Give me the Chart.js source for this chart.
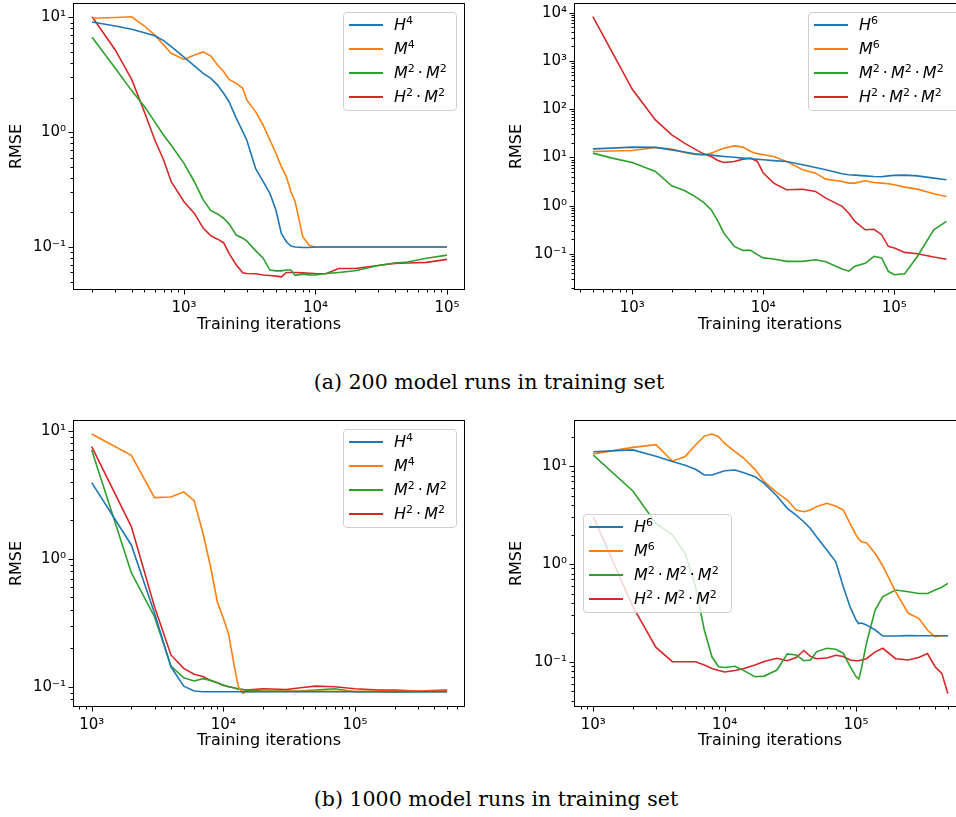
<!DOCTYPE html>
<html>
<head>
<meta charset="utf-8">
<script src="https://cdn.jsdelivr.net/npm/chart.js@4.4.1/dist/chart.umd.min.js"></script>
<style>
  body { margin: 0; width: 956px; height: 817px; overflow: hidden; background: #fff; position: relative; }
  .panel { position: absolute; }
  .legend { position: absolute; background: rgba(255,255,255,0.8); border: 1px solid #d0d0d0; border-radius: 4px;
            box-sizing: border-box; padding: 0 0 1px 0; font-family: 'DejaVu Sans'; font-size: 16px; color: #000; }
  .legend .row { height: 24px; line-height: 24px; display: flex; align-items: center; white-space: nowrap; }
  .legend .swatch { display: block; width: 34px; height: 2px; margin: 0 11px 0 5px; flex: none; }
  .legend sup { font-size: 11px; vertical-align: 0; position: relative; top: -6px; line-height: 0; }
  .legend .dot { margin: 0 3px; }
  .caption { position: absolute; font-family: 'DejaVu Serif'; font-size: 20.5px; color: #000; white-space: nowrap;
             transform: translateX(-50%); }
</style>
</head>
<body>
<div class="panel" style="left:0;top:0"><canvas id="a" width="480" height="340"></canvas></div>
<div class="panel" style="left:480px;top:0"><canvas id="b" width="500" height="340"></canvas></div>
<div class="panel" style="left:0;top:410px"><canvas id="c" width="480" height="340"></canvas></div>
<div class="panel" style="left:480px;top:410px"><canvas id="d" width="500" height="340"></canvas></div>
<div class="caption" style="left:489px;top:370px">(a) 200 model runs in training set</div>
<div class="caption" style="left:496px;top:787px">(b) 1000 model runs in training set</div>
<script>
// (a) left: 200 runs, 4th order
const aIters = [200, 300, 400, 500, 600, 700, 800, 1000, 1200, 1400, 1600, 1800, 2000, 2200, 2500, 2800, 3000, 3500, 4000, 4500, 5000, 5500, 6000, 6500, 7000, 8000, 9000, 10000, 12000, 15000, 20000, 30000, 40000, 50000, 70000, 100000];
const aH4 = [9.1, 8.4, 7.86, 7.35, 6.9, 6.27, 5.56, 4.5, 3.77, 3.25, 2.94, 2.57, 2.18, 1.84, 1.32, 1.01, 0.855, 0.484, 0.371, 0.293, 0.21, 0.131, 0.111, 0.102, 0.1, 0.099, 0.099, 0.1, 0.1, 0.1, 0.1, 0.1, 0.1, 0.1, 0.1, 0.1];
const aM4 = [9.8, 9.95, 10.1, 8.4, 7.0, 5.74, 4.86, 4.3, 4.7, 5.0, 4.6, 3.85, 3.37, 2.88, 2.66, 2.41, 1.91, 1.51, 1.15, 0.855, 0.655, 0.5, 0.41, 0.303, 0.248, 0.123, 0.103, 0.1, 0.1, 0.1, 0.1, 0.1, 0.1, 0.1, 0.1, 0.1];
const aM2M2 = [6.7, 3.6, 2.3, 1.67, 1.23, 0.94, 0.77, 0.535, 0.37, 0.257, 0.207, 0.194, 0.178, 0.159, 0.127, 0.119, 0.113, 0.093, 0.08, 0.063, 0.062, 0.062, 0.063, 0.063, 0.0566, 0.058, 0.057, 0.057, 0.0587, 0.06, 0.0621, 0.069, 0.0725, 0.074, 0.0797, 0.085];
const aH2M2 = [10.1, 5.2, 2.88, 1.5, 0.855, 0.573, 0.37, 0.248, 0.196, 0.146, 0.125, 0.117, 0.109, 0.088, 0.0697, 0.0597, 0.0587, 0.0585, 0.057, 0.0565, 0.0558, 0.055, 0.06, 0.06, 0.06, 0.0595, 0.059, 0.0587, 0.0585, 0.065, 0.065, 0.069, 0.072, 0.0725, 0.0735, 0.078];

// (a) right: 200 runs, 6th order
const bIters = [500, 700, 1000, 1500, 2000, 2500, 3000, 3500, 4000, 4500, 5000, 6000, 7000, 8000, 9000, 10000, 12000, 15000, 20000, 25000, 30000, 40000, 45000, 50000, 60000, 70000, 80000, 90000, 100000, 120000, 150000, 200000, 250000];
const bH6 = [15.1, 15.6, 16.4, 16.2, 14.4, 13.0, 11.9, 11.5, 11.2, 10.8, 10.5, 10.1, 9.7, 9.4, 9.2, 8.95, 8.6, 8.27, 7.05, 6.2, 5.55, 4.59, 4.4, 4.3, 4.15, 4.04, 4.0, 4.15, 4.25, 4.3, 4.15, 3.73, 3.45];
const bM6 = [13.3, 13.6, 14.0, 16.1, 14.9, 12.7, 11.5, 11.3, 12.3, 14.0, 15.6, 17.4, 16.4, 13.3, 12.0, 11.4, 10.5, 8.3, 5.55, 4.74, 3.56, 3.19, 2.94, 2.94, 3.29, 3.04, 2.94, 2.85, 2.72, 2.43, 2.21, 1.77, 1.56];
const bM2M2M2 = [12.3, 9.7, 7.9, 5.13, 2.59, 2.07, 1.56, 1.17, 0.83, 0.48, 0.27, 0.144, 0.119, 0.119, 0.097, 0.083, 0.079, 0.0705, 0.0705, 0.076, 0.069, 0.049, 0.044, 0.056, 0.064, 0.0895, 0.083, 0.0438, 0.0373, 0.039, 0.089, 0.318, 0.474];
const bH2M2M2 = [8270, 1535, 259, 60, 29.4, 19.8, 14.9, 11.9, 10.5, 8.67, 7.88, 8.27, 9.24, 9.7, 8.27, 4.74, 2.94, 2.14, 2.2, 1.98, 1.44, 0.97, 0.7, 0.474, 0.318, 0.326, 0.251, 0.144, 0.133, 0.108, 0.1016, 0.0867, 0.078];

// (b) left: 1000 runs, 4th order
const cIters = [1000, 2000, 3000, 4000, 5000, 6000, 7000, 8000, 9000, 10000, 11000, 12000, 13000, 14000, 15000, 20000, 30000, 40000, 50000, 70000, 100000, 150000, 200000, 300000, 500000];
const cH4 = [3.93, 1.28, 0.374, 0.143, 0.101, 0.0924, 0.0914, 0.0914, 0.0914, 0.0914, 0.0914, 0.0914, 0.0914, 0.0914, 0.0914, 0.0914, 0.0914, 0.0914, 0.0914, 0.0914, 0.0914, 0.0914, 0.0914, 0.0914, 0.0914];
const cM4 = [9.42, 6.41, 3.0, 3.03, 3.33, 2.84, 1.58, 0.865, 0.461, 0.342, 0.254, 0.152, 0.1, 0.0887, 0.0914, 0.092, 0.092, 0.092, 0.092, 0.092, 0.092, 0.092, 0.092, 0.092, 0.092];
const cM2M2 = [7.06, 0.778, 0.352, 0.145, 0.1175, 0.1107, 0.1155, 0.112, 0.1074, 0.103, 0.1, 0.098, 0.096, 0.095, 0.094, 0.0925, 0.0925, 0.093, 0.094, 0.0963, 0.0914, 0.0914, 0.0905, 0.0914, 0.0914];
const cH2M2 = [7.5, 1.78, 0.422, 0.177, 0.139, 0.125, 0.12, 0.112, 0.1074, 0.102, 0.1, 0.098, 0.096, 0.095, 0.094, 0.0963, 0.095, 0.0985, 0.101, 0.1, 0.0963, 0.094, 0.094, 0.0925, 0.094];

// (b) right: 1000 runs, 6th order
const dIters = [1000, 2000, 3000, 4000, 5000, 6000, 7000, 8000, 9000, 10000, 12000, 14000, 17000, 20000, 25000, 30000, 35000, 40000, 45000, 50000, 60000, 70000, 80000, 90000, 100000, 105000, 110000, 120000, 140000, 160000, 200000, 250000, 300000, 350000, 400000, 450000, 500000];
const dH6 = [14.0, 14.6, 12.6, 11.1, 10.2, 9.25, 8.09, 8.09, 8.55, 8.96, 9.1, 8.55, 7.78, 6.65, 4.94, 3.7, 3.16, 2.7, 2.3, 1.9, 1.39, 1.06, 0.587, 0.367, 0.268, 0.247, 0.25, 0.239, 0.212, 0.184, 0.184, 0.186, 0.185, 0.185, 0.185, 0.185, 0.185];
const dM6 = [13.3, 15.5, 16.5, 11.2, 12.5, 16.4, 20.2, 21.2, 19.9, 17.0, 14.0, 12.0, 9.25, 6.92, 5.35, 4.5, 3.56, 3.42, 3.56, 3.85, 4.16, 3.91, 3.56, 2.6, 1.98, 1.8, 1.69, 1.65, 1.28, 0.955, 0.522, 0.314, 0.279, 0.212, 0.181, 0.185, 0.185];
const dM2M2M2 = [12.9, 5.56, 2.6, 1.98, 1.28, 0.587, 0.212, 0.113, 0.0895, 0.088, 0.0905, 0.0817, 0.0708, 0.0718, 0.0828, 0.121, 0.118, 0.103, 0.105, 0.127, 0.138, 0.135, 0.123, 0.09, 0.071, 0.067, 0.086, 0.155, 0.34, 0.465, 0.543, 0.522, 0.5, 0.5, 0.543, 0.58, 0.635];
const dH2M2M2 = [3.04, 0.367, 0.141, 0.1007, 0.1007, 0.1007, 0.093, 0.086, 0.082, 0.079, 0.082, 0.086, 0.093, 0.101, 0.109, 0.103, 0.111, 0.131, 0.114, 0.108, 0.11, 0.117, 0.114, 0.105, 0.103, 0.103, 0.105, 0.108, 0.127, 0.138, 0.108, 0.105, 0.111, 0.122, 0.0895, 0.0766, 0.0478];

const names4 = ['H⁴', 'M⁴', 'M²·M²', 'H²·M²'];
const names6 = ['H⁶', 'M⁶', 'M²·M²·M²', 'H²·M²·M²'];

// labelled (major) ticks
const xMajorA = [1e3, 1e4, 1e5];
const yMajorA = [0.1, 1, 10];
const xMajorB = [1e3, 1e4, 1e5];
const yMajorB = [0.1, 1, 10, 100, 1000, 10000];
const xMajorC = [1e3, 1e4, 1e5];
const yMajorC = [0.1, 1, 10];
const xMajorD = [1e3, 1e4, 1e5];
const yMajorD = [0.1, 1, 10];

const colors = ['#1f77b4', '#ff7f0e', '#2ca02c', '#d62728'];
const SUP = {'-': '⁻', '0': '⁰', '1': '¹', '2': '²', '3': '³', '4': '⁴', '5': '⁵', '6': '⁶'};

function logTicks(min, max) {
  const out = [];
  for (let e = Math.floor(Math.log10(min)); e <= Math.ceil(Math.log10(max)); e++) {
    for (let m = 1; m <= 9; m++) {
      const v = m * Math.pow(10, e);
      if (v >= min && v <= max) out.push({ value: v, major: m === 1 });
    }
  }
  return out;
}

function powLabel(v, majors) {
  if (!majors.some(m => Math.abs(m - v) / m < 1e-6)) return '';
  const e = Math.round(Math.log10(v));
  return '10' + String(e).split('').map(ch => SUP[ch]).join('');
}

// matplotlib style box + tick marks
const frame = {
  id: 'frame',
  afterDraw(chart) {
    const { ctx, chartArea: a, scales } = chart;
    ctx.save();
    ctx.strokeStyle = '#000';
    ctx.lineWidth = 1;
    const L = Math.round(a.left) - 0.5, T = Math.round(a.top) - 0.5;
    const R = Math.round(a.right) + 0.5, B = Math.round(a.bottom) + 0.5;
    ctx.strokeRect(L, T, R - L, B - T);
    ctx.beginPath();
    scales.x.ticks.forEach(t => {
      const p = Math.round(scales.x.getPixelForValue(t.value)) + 0.5;
      ctx.moveTo(p, B);
      ctx.lineTo(p, B + (t.major ? 5 : 3));
    });
    scales.y.ticks.forEach(t => {
      const p = Math.round(scales.y.getPixelForValue(t.value)) + 0.5;
      ctx.moveTo(L, p);
      ctx.lineTo(L - (t.major ? 5 : 3), p);
    });
    ctx.stroke();
    ctx.restore();
  }
};

function makeChart(id, p) {
  const canvas = document.getElementById(id);
  const W = canvas.width, H = canvas.height;
  const tickFont = { family: 'DejaVu Sans', size: 15 };
  const titleFont = { family: 'DejaVu Sans', size: 16 };
  return new Chart(canvas, {
    type: 'line',
    data: {
      labels: p.iters,
      datasets: p.series.map((s, i) => ({
        label: p.names[i],
        data: s,
        borderColor: colors[i],
        backgroundColor: colors[i],
        borderWidth: 1.6,
        pointRadius: 0,
        tension: 0,
        fill: false
      }))
    },
    options: {
      responsive: false,
      animation: false,
      events: [],
      layout: { padding: { left: 0, top: p.area[1], right: W - p.area[2], bottom: H - p.area[3] - p.xh } },
      plugins: { legend: { display: false }, tooltip: { enabled: false } },
      scales: {
        x: {
          type: 'logarithmic',
          min: p.xmin, max: p.xmax,
          afterBuildTicks: s => { s.ticks = logTicks(s.min, s.max); },
          afterFit: s => { s.height = p.xh; s.paddingLeft = 0; s.paddingRight = 0; },
          grid: { display: false, drawTicks: false },
          border: { display: false },
          ticks: { autoSkip: false, maxRotation: 0, padding: 10, color: '#000', font: tickFont,
                   callback: v => powLabel(v, p.xMajor) },
          title: { display: true, text: 'Training iterations', color: '#000', font: titleFont, padding: 0 }
        },
        y: {
          type: 'logarithmic',
          min: p.ymin, max: p.ymax,
          afterBuildTicks: s => { s.ticks = logTicks(s.min, s.max); },
          afterFit: s => { s.width = p.area[0]; s.paddingTop = 0; s.paddingBottom = 0; },
          grid: { display: false, drawTicks: false },
          border: { display: false },
          ticks: { autoSkip: false, padding: 8, color: '#000', font: tickFont,
                   callback: v => powLabel(v, p.yMajor) },
          title: { display: true, text: 'RMSE', color: '#000', font: titleFont, padding: { top: p.ytp, bottom: 0 } }
        }
      }
    },
    plugins: [frame]
  });
}

function makeLegend(names, left, top, width) {
  const box = document.createElement('div');
  box.className = 'legend';
  box.style.left = left + 'px';
  box.style.top = top + 'px';
  box.style.width = width + 'px';
  const supDigit = { '²': '2', '⁴': '4', '⁶': '6' };
  names.forEach((n, i) => {
    const html = n.split('·').map(part =>
      part.replace(/([HM])/g, '<i>$1</i>').replace(/[²⁴⁶]/g, ch => '<sup>' + supDigit[ch] + '</sup>')
    ).join('<span class="dot">·</span>');
    const row = document.createElement('div');
    row.className = 'row';
    row.innerHTML = '<span class="swatch" style="background-color:' + colors[i] + '"></span><span>' + html + '</span>';
    box.appendChild(row);
  });
  document.body.appendChild(box);
}

makeChart('a', { iters: aIters, series: [aH4, aM4, aM2M2, aH2M2], names: names4,
  xmin: 145.7, xmax: 134700, ymin: 0.04307, ymax: 13.06, xMajor: xMajorA, yMajor: yMajorA,
  area: [74, 4, 464, 289], xh: 45, ytp: 7 });
makeChart('b', { iters: bIters, series: [bH6, bM6, bM2M2M2, bH2M2M2], names: names6,
  xmin: 365.2, xmax: 346500, ymin: 0.01883, ymax: 15140, xMajor: xMajorB, yMajor: yMajorB,
  area: [95, 4, 485, 289], xh: 45, ytp: 27 });
makeChart('c', { iters: cIters, series: [cH4, cM4, cM2M2, cH2M2], names: names4,
  xmin: 733.8, xmax: 673000, ymin: 0.07066, ymax: 11.9, xMajor: xMajorC, yMajor: yMajorC,
  area: [74, 11, 464, 296], xh: 44, ytp: 7 });
makeChart('d', { iters: dIters, series: [dH6, dM6, dM2M2M2, dH2M2M2], names: names6,
  xmin: 725.6, xmax: 675600, ymin: 0.03556, ymax: 28.8, xMajor: xMajorD, yMajor: yMajorD,
  area: [95, 11, 485, 296], xh: 44, ytp: 27 });

makeLegend(names4, 343, 12, 114);
makeLegend(names6, 808, 12, 160);
makeLegend(names4, 343, 429, 114);
makeLegend(names6, 583, 514, 149);
</script>
</body>
</html>
